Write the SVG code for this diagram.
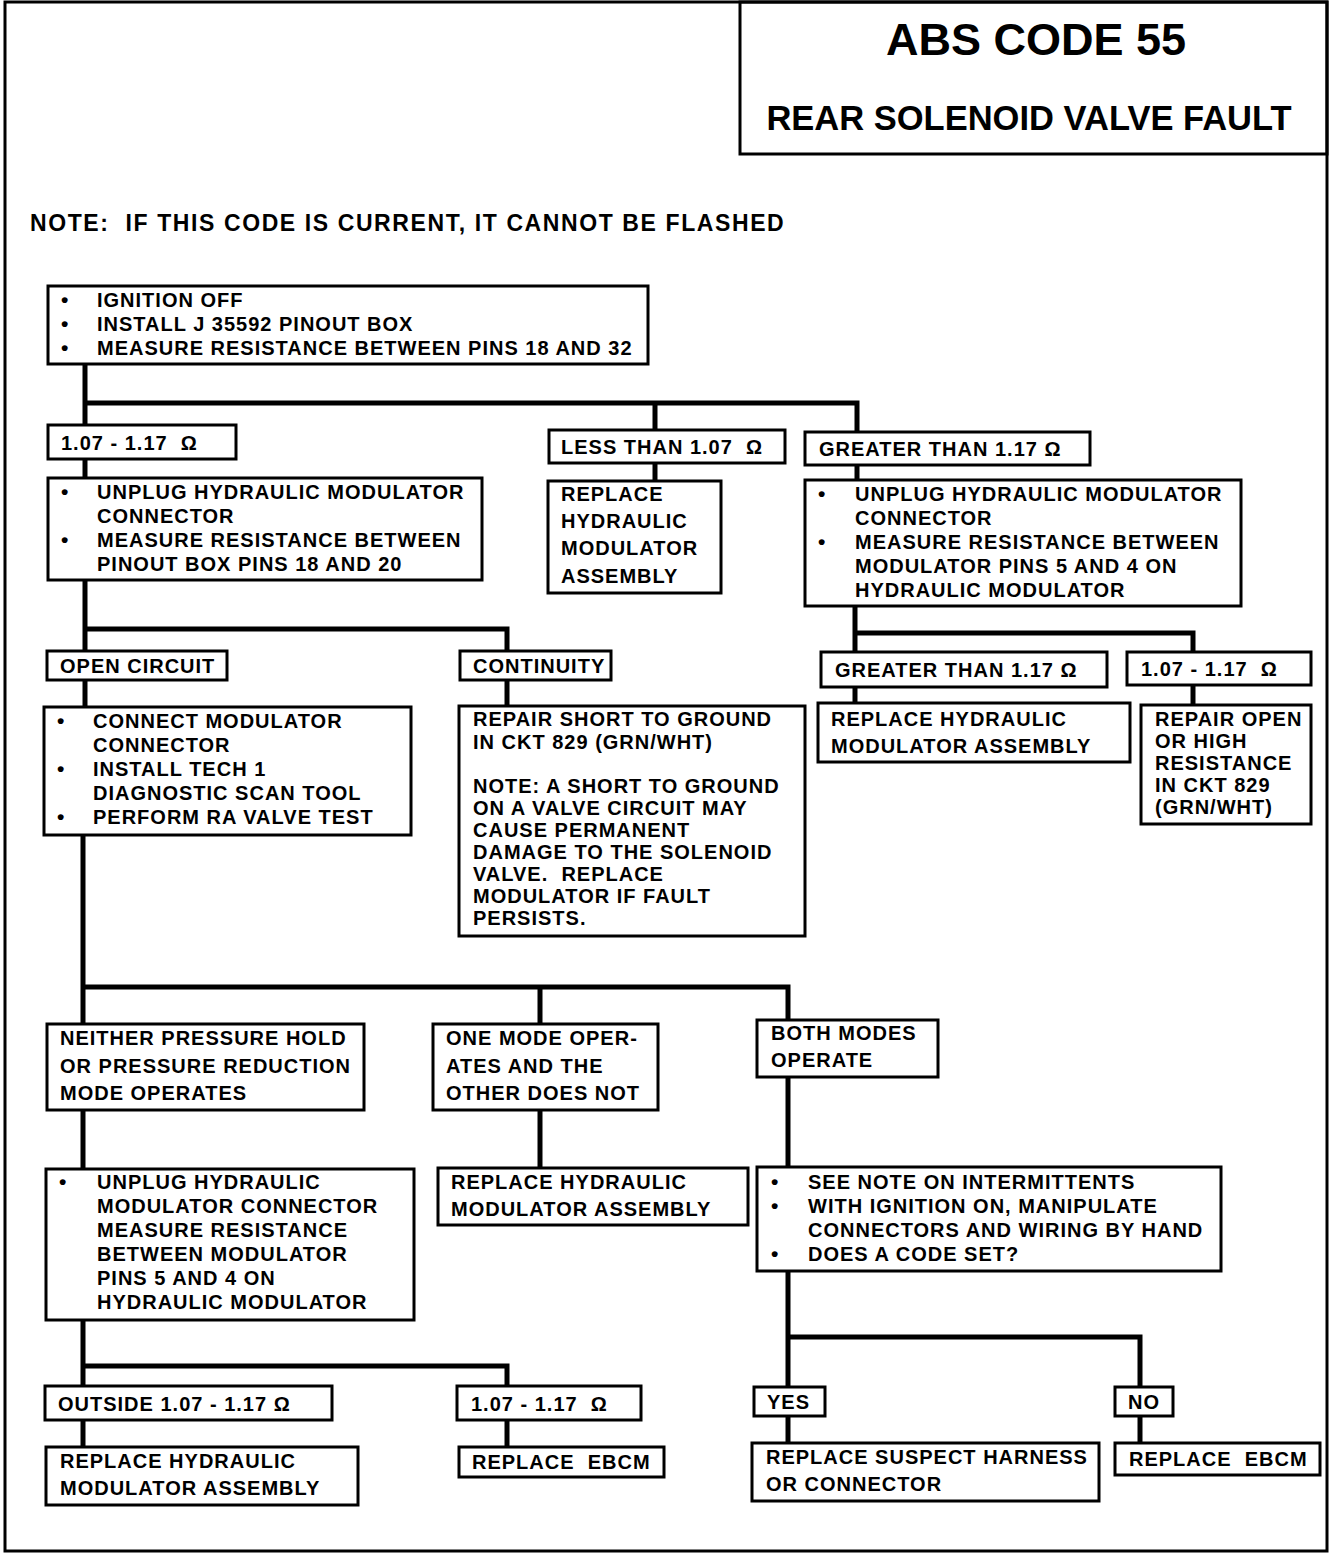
<svg xmlns="http://www.w3.org/2000/svg" width="1344" height="1554" viewBox="0 0 1344 1554" xml:space="preserve">
<style>
text{font-family:"Liberation Sans",Arial,sans-serif;font-weight:bold;fill:#000;font-size:20px;letter-spacing:1px;white-space:pre}
.box{fill:#fff;stroke:#000;stroke-width:3}
.ln{fill:none;stroke:#000;stroke-width:5;stroke-linejoin:miter;stroke-linecap:square}
.frame{fill:none;stroke:#000;stroke-width:3}
.t1{font-size:45px;letter-spacing:0}
.t2{font-size:34.5px;letter-spacing:0}
.note{font-size:23px;letter-spacing:1.6px}
.b{font-size:21px;letter-spacing:0}
</style>
<rect width="1344" height="1554" fill="#fff"/>
<rect class="frame" x="5" y="2" width="1322" height="1549"/>
<g id="title">
<rect class="frame" x="740" y="2" width="587" height="152"/>
<text class="t1" x="1036" y="55" text-anchor="middle">ABS CODE 55</text>
<text class="t2" x="1029" y="130" text-anchor="middle">REAR SOLENOID VALVE FAULT</text>
</g>
<text class="note" x="30" y="231">NOTE:  IF THIS CODE IS CURRENT, IT CANNOT BE FLASHED</text>

<g id="connectors">
<path class="ln" d="M85 364V428M85 403H857V432M655 403V430"/>
<path class="ln" d="M85 459V478"/>
<path class="ln" d="M655 463V481"/>
<path class="ln" d="M857 465V480"/>
<path class="ln" d="M85 580V652M85 629H507V652"/>
<path class="ln" d="M855 606V652M855 633H1193V653"/>
<path class="ln" d="M855 687V703"/>
<path class="ln" d="M1193 685V705"/>
<path class="ln" d="M85 680V707"/>
<path class="ln" d="M507 680V706"/>
<path class="ln" d="M83 835V1024M83 987H788V1020M540 987V1024"/>
<path class="ln" d="M83 1110V1169"/>
<path class="ln" d="M540 1110V1168"/>
<path class="ln" d="M788 1077V1167"/>
<path class="ln" d="M83 1320V1386M83 1366H507V1386"/>
<path class="ln" d="M83 1420V1447"/>
<path class="ln" d="M507 1420V1447"/>
<path class="ln" d="M788 1271V1387M788 1337H1140V1387"/>
<path class="ln" d="M788 1416V1443"/>
<path class="ln" d="M1140 1416V1443"/>
</g>

<g id="n1">
<rect class="box" x="48" y="286" width="600" height="78"/>
<text class="b" x="61" y="307">•</text><text x="97" y="307">IGNITION OFF</text>
<text class="b" x="61" y="331">•</text><text x="97" y="331">INSTALL J 35592 PINOUT BOX</text>
<text class="b" x="61" y="355">•</text><text x="97" y="355">MEASURE RESISTANCE BETWEEN PINS 18 AND 32</text>
</g>
<g id="n2">
<rect class="box" x="48" y="425" width="188" height="34"/>
<text x="61" y="450">1.07 - 1.17  Ω</text>
</g>
<g id="n3">
<rect class="box" x="549" y="430" width="236" height="33"/>
<text x="561" y="454">LESS THAN 1.07  Ω</text>
</g>
<g id="n4">
<rect class="box" x="805" y="432" width="285" height="33"/>
<text x="819" y="456">GREATER THAN 1.17 Ω</text>
</g>
<g id="n5">
<rect class="box" x="48" y="478" width="434" height="102"/>
<text class="b" x="61" y="499">•</text><text x="97" y="499">UNPLUG HYDRAULIC MODULATOR</text>
<text x="97" y="523">CONNECTOR</text>
<text class="b" x="61" y="547">•</text><text x="97" y="547">MEASURE RESISTANCE BETWEEN</text>
<text x="97" y="571">PINOUT BOX PINS 18 AND 20</text>
</g>
<g id="n6">
<rect class="box" x="548" y="481" width="173" height="112"/>
<text x="561" y="501">REPLACE</text>
<text x="561" y="528">HYDRAULIC</text>
<text x="561" y="555">MODULATOR</text>
<text x="561" y="583">ASSEMBLY</text>
</g>
<g id="n7">
<rect class="box" x="805" y="480" width="436" height="126"/>
<text class="b" x="818" y="501">•</text><text x="855" y="501">UNPLUG HYDRAULIC MODULATOR</text>
<text x="855" y="525">CONNECTOR</text>
<text class="b" x="818" y="549">•</text><text x="855" y="549">MEASURE RESISTANCE BETWEEN</text>
<text x="855" y="573">MODULATOR PINS 5 AND 4 ON</text>
<text x="855" y="597">HYDRAULIC MODULATOR</text>
</g>
<g id="n8">
<rect class="box" x="47" y="651" width="180" height="29"/>
<text x="60" y="673">OPEN CIRCUIT</text>
</g>
<g id="n9">
<rect class="box" x="460" y="651" width="151" height="29"/>
<text x="473" y="673">CONTINUITY</text>
</g>
<g id="n10">
<rect class="box" x="821" y="652" width="286" height="35"/>
<text x="835" y="677">GREATER THAN 1.17 Ω</text>
</g>
<g id="n11">
<rect class="box" x="1127" y="652" width="184" height="33"/>
<text x="1141" y="676">1.07 - 1.17  Ω</text>
</g>
<g id="n12">
<rect class="box" x="818" y="703" width="312" height="59"/>
<text x="831" y="726">REPLACE HYDRAULIC</text>
<text x="831" y="753">MODULATOR ASSEMBLY</text>
</g>
<g id="n13">
<rect class="box" x="1141" y="705" width="170" height="119"/>
<text x="1155" y="726">REPAIR OPEN</text>
<text x="1155" y="748">OR HIGH</text>
<text x="1155" y="770">RESISTANCE</text>
<text x="1155" y="792">IN CKT 829</text>
<text x="1155" y="814">(GRN/WHT)</text>
</g>
<g id="n14">
<rect class="box" x="44" y="707" width="367" height="128"/>
<text class="b" x="57" y="728">•</text><text x="93" y="728">CONNECT MODULATOR</text>
<text x="93" y="752">CONNECTOR</text>
<text class="b" x="57" y="776">•</text><text x="93" y="776">INSTALL TECH 1</text>
<text x="93" y="800">DIAGNOSTIC SCAN TOOL</text>
<text class="b" x="57" y="824">•</text><text x="93" y="824">PERFORM RA VALVE TEST</text>
</g>
<g id="n15">
<rect class="box" x="459" y="706" width="346" height="230"/>
<text x="473" y="726">REPAIR SHORT TO GROUND</text>
<text x="473" y="749">IN CKT 829 (GRN/WHT)</text>
<text x="473" y="793">NOTE: A SHORT TO GROUND</text>
<text x="473" y="815">ON A VALVE CIRCUIT MAY</text>
<text x="473" y="837">CAUSE PERMANENT</text>
<text x="473" y="859">DAMAGE TO THE SOLENOID</text>
<text x="473" y="881">VALVE.  REPLACE</text>
<text x="473" y="903">MODULATOR IF FAULT</text>
<text x="473" y="925">PERSISTS.</text>
</g>
<g id="n16">
<rect class="box" x="47" y="1024" width="317" height="86"/>
<text x="60" y="1045">NEITHER PRESSURE HOLD</text>
<text x="60" y="1073">OR PRESSURE REDUCTION</text>
<text x="60" y="1100">MODE OPERATES</text>
</g>
<g id="n17">
<rect class="box" x="433" y="1024" width="225" height="86"/>
<text x="446" y="1045">ONE MODE OPER-</text>
<text x="446" y="1073">ATES AND THE</text>
<text x="446" y="1100">OTHER DOES NOT</text>
</g>
<g id="n18">
<rect class="box" x="757" y="1020" width="181" height="57"/>
<text x="771" y="1040">BOTH MODES</text>
<text x="771" y="1067">OPERATE</text>
</g>
<g id="n19">
<rect class="box" x="46" y="1169" width="368" height="151"/>
<text class="b" x="59" y="1189">•</text><text x="97" y="1189">UNPLUG HYDRAULIC</text>
<text x="97" y="1213">MODULATOR CONNECTOR</text>
<text x="97" y="1237">MEASURE RESISTANCE</text>
<text x="97" y="1261">BETWEEN MODULATOR</text>
<text x="97" y="1285">PINS 5 AND 4 ON</text>
<text x="97" y="1309">HYDRAULIC MODULATOR</text>
</g>
<g id="n20">
<rect class="box" x="438" y="1168" width="310" height="57"/>
<text x="451" y="1189">REPLACE HYDRAULIC</text>
<text x="451" y="1216">MODULATOR ASSEMBLY</text>
</g>
<g id="n21">
<rect class="box" x="757" y="1167" width="464" height="104"/>
<text class="b" x="771" y="1189">•</text><text x="808" y="1189">SEE NOTE ON INTERMITTENTS</text>
<text class="b" x="771" y="1213">•</text><text x="808" y="1213">WITH IGNITION ON, MANIPULATE</text>
<text x="808" y="1237">CONNECTORS AND WIRING BY HAND</text>
<text class="b" x="771" y="1261">•</text><text x="808" y="1261">DOES A CODE SET?</text>
</g>
<g id="n22">
<rect class="box" x="45" y="1386" width="287" height="34"/>
<text x="58" y="1411">OUTSIDE 1.07 - 1.17 Ω</text>
</g>
<g id="n23">
<rect class="box" x="457" y="1386" width="184" height="34"/>
<text x="471" y="1411">1.07 - 1.17  Ω</text>
</g>
<g id="n24">
<rect class="box" x="46" y="1447" width="312" height="58"/>
<text x="60" y="1468">REPLACE HYDRAULIC</text>
<text x="60" y="1495">MODULATOR ASSEMBLY</text>
</g>
<g id="n25">
<rect class="box" x="459" y="1447" width="205" height="30"/>
<text x="472" y="1469">REPLACE  EBCM</text>
</g>
<g id="n26">
<rect class="box" x="754" y="1387" width="71" height="29"/>
<text x="767" y="1409">YES</text>
</g>
<g id="n27">
<rect class="box" x="1115" y="1387" width="58" height="29"/>
<text x="1128" y="1409">NO</text>
</g>
<g id="n28">
<rect class="box" x="752" y="1443" width="347" height="58"/>
<text x="766" y="1464">REPLACE SUSPECT HARNESS</text>
<text x="766" y="1491">OR CONNECTOR</text>
</g>
<g id="n29">
<rect class="box" x="1115" y="1443" width="205" height="32"/>
<text x="1129" y="1466">REPLACE  EBCM</text>
</g>
</svg>
